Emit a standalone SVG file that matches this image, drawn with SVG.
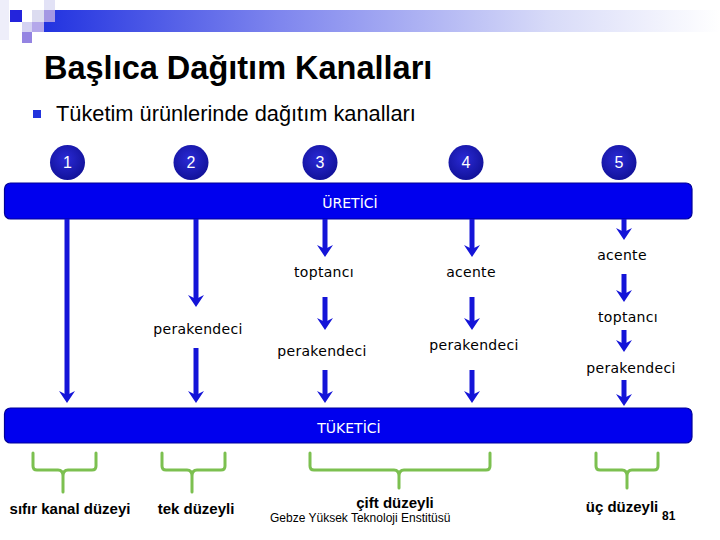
<svg xmlns="http://www.w3.org/2000/svg" width="720" height="540" viewBox="0 0 720 540">
<defs>
  <linearGradient id="hdr" x1="0" y1="0" x2="1" y2="0">
    <stop offset="0" stop-color="#2233e0"/>
    <stop offset="0.35" stop-color="#7f86ee"/>
    <stop offset="0.75" stop-color="#d8dbf8"/>
    <stop offset="1" stop-color="#ffffff"/>
  </linearGradient>
  <radialGradient id="circ" cx="0.45" cy="0.4" r="0.6">
    <stop offset="0" stop-color="#2a2ad6"/>
    <stop offset="1" stop-color="#12129a"/>
  </radialGradient>
  <marker id="ah" viewBox="0 -8 12 16" refX="4" refY="0" markerWidth="12" markerHeight="16" markerUnits="userSpaceOnUse" orient="auto">
    <path d="M0,-8 L4,0 L0,8 L12,0 Z" fill="#1414d8"/>
  </marker>
  <style>
    .bar { fill:#0000ee; stroke:#00009a; stroke-width:1.2; }
    .bartxt { font-family:"DejaVu Sans", Verdana, sans-serif; font-size:14px; fill:#ffffff; text-anchor:middle; }
    .num { font-family:"Liberation Sans", Arial, sans-serif; font-size:16px; fill:#ffffff; text-anchor:middle; }
    .lbl { font-family:"DejaVu Sans", Verdana, sans-serif; font-size:14px; fill:#000000; text-anchor:middle; letter-spacing:0.3px; }
    .lvl { font-family:"Liberation Sans", Arial, sans-serif; font-weight:bold; font-size:15px; fill:#000000; text-anchor:middle; }
    .conn line { stroke:#1414d8; stroke-width:5; marker-end:url(#ah); }
    .brace { fill:none; stroke:#7cc050; stroke-width:3; stroke-linecap:round; stroke-linejoin:round; }
  </style>
</defs>
<rect width="720" height="540" fill="#ffffff"/>

<!-- header decoration -->
<g id="header">
  <rect x="44" y="10" width="676" height="22" fill="url(#hdr)"/>
  <rect x="0" y="0" width="9" height="40" fill="#eeeefa"/>
  <rect x="44" y="0" width="11" height="10" fill="#e2e2f6"/>
  <rect x="10" y="10" width="12" height="12" fill="#2424dc"/>
  <rect x="32" y="10" width="12" height="12" fill="#dcdcf0"/>
  <rect x="44" y="10" width="11" height="12" fill="#a498e4"/>
  <rect x="22" y="22" width="10" height="10" fill="#d4d2f2"/>
  <rect x="32" y="22" width="12" height="10" fill="#b4a8ea"/>
  <rect x="22" y="32" width="10" height="11" fill="#9484e2"/>
</g>

<text x="44" y="79" font-family="Liberation Sans, Arial, sans-serif" font-weight="bold" font-size="32.5" fill="#000000">Başlıca Dağıtım Kanalları</text>
<rect x="33" y="110" width="8" height="8" fill="#2233dd"/>
<text x="56" y="121" font-family="Liberation Sans, Arial, sans-serif" font-size="21.8" fill="#000000">Tüketim ürünlerinde dağıtım kanalları</text>

<!-- number circles -->
<g id="n1"><circle cx="67.5" cy="162.5" r="17.5" fill="url(#circ)"/><text class="num" x="67.5" y="168">1</text></g>
<g id="n2"><circle cx="191" cy="162.5" r="17.5" fill="url(#circ)"/><text class="num" x="191" y="168">2</text></g>
<g id="n3"><circle cx="320" cy="162.5" r="17.5" fill="url(#circ)"/><text class="num" x="320" y="168">3</text></g>
<g id="n4"><circle cx="466" cy="162.5" r="17.5" fill="url(#circ)"/><text class="num" x="466" y="168">4</text></g>
<g id="n5"><circle cx="619" cy="162.5" r="17.5" fill="url(#circ)"/><text class="num" x="619" y="168">5</text></g>

<!-- producer / consumer bars -->
<g id="uretici"><rect class="bar" x="4.5" y="183" width="687.5" height="36" rx="6"/><text class="bartxt" x="350" y="208">ÜRETİCİ</text></g>
<g id="tuketici"><rect class="bar" x="4.5" y="408" width="687.5" height="35" rx="6"/><text class="bartxt" x="349" y="433">TÜKETİCİ</text></g>

<!-- intermediaries -->
<g id="c2-perakendeci"><text class="lbl" x="198" y="334">perakendeci</text></g>
<g id="c3-toptanci"><text class="lbl" x="324" y="277">toptancı</text></g>
<g id="c3-perakendeci"><text class="lbl" x="322" y="356">perakendeci</text></g>
<g id="c4-acente"><text class="lbl" x="471" y="277">acente</text></g>
<g id="c4-perakendeci"><text class="lbl" x="474" y="350">perakendeci</text></g>
<g id="c5-acente"><text class="lbl" x="622" y="260">acente</text></g>
<g id="c5-toptanci"><text class="lbl" x="628" y="322">toptancı</text></g>
<g id="c5-perakendeci"><text class="lbl" x="631" y="373">perakendeci</text></g>

<!-- connectors -->
<g id="connectors" class="conn">
  <line x1="67" y1="219" x2="67" y2="395"/>
  <line x1="196" y1="219" x2="196" y2="299"/>
  <line x1="196" y1="348" x2="196" y2="395"/>
  <line x1="325" y1="219" x2="325" y2="249"/>
  <line x1="325" y1="297" x2="325" y2="322"/>
  <line x1="325" y1="370" x2="325" y2="395"/>
  <line x1="472" y1="219" x2="472" y2="249"/>
  <line x1="472" y1="297" x2="472" y2="322"/>
  <line x1="472" y1="370" x2="472" y2="395"/>
  <line x1="624" y1="219" x2="624" y2="232"/>
  <line x1="624" y1="274" x2="624" y2="294"/>
  <line x1="624" y1="330" x2="624" y2="344"/>
  <line x1="624" y1="380" x2="624" y2="398"/>
</g>

<!-- braces -->
<g id="braces">
  <path class="brace" d="M33,453 V466 Q33,470 37,470 H58 Q63,470 63,476 V492 M63,476 Q63,470 68,470 H92 Q96,470 96,466 V453"/>
  <path class="brace" d="M162,453 V466 Q162,470 166,470 H187 Q192,470 192,476 V492 M192,476 Q192,470 197,470 H221 Q225,470 225,466 V453"/>
  <path class="brace" d="M310,453 V466 Q310,470 314,470 H394 Q399,470 399,476 V488 M399,476 Q399,470 404,470 H486 Q490,470 490,466 V453"/>
  <path class="brace" d="M596,453 V466 Q596,470 600,470 H622 Q627,470 627,476 V488 M627,476 Q627,470 632,470 H654 Q658,470 658,466 V453"/>
</g>

<!-- level labels -->
<text class="lvl" x="70" y="514">sıfır kanal düzeyi</text>
<text class="lvl" x="196" y="514">tek düzeyli</text>
<text class="lvl" x="395" y="508">çift düzeyli</text>
<text class="lvl" x="622" y="512">üç düzeyli</text>
<text x="662" y="520" font-family="Liberation Sans, Arial, sans-serif" font-weight="bold" font-size="12" fill="#000000">81</text>
<text x="270" y="522" font-family="Liberation Sans, Arial, sans-serif" font-size="12" fill="#000000">Gebze Yüksek Teknoloji Enstitüsü</text>
</svg>
